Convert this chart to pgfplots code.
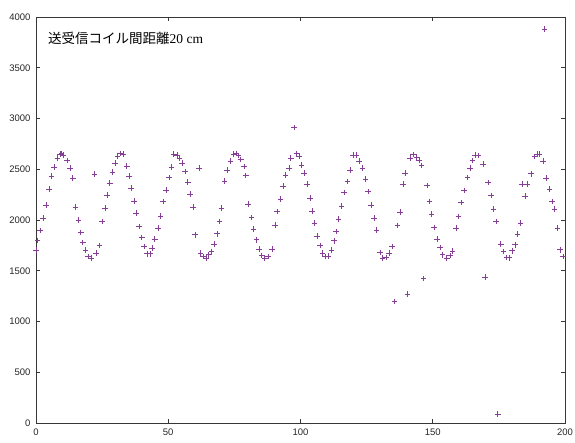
\documentclass[border=0pt]{standalone}
\usepackage{fontspec}
\setmainfont{Liberation Sans}
\newfontfamily\jp{Noto Sans CJK JP}
\newfontfamily\tms{Liberation Serif}
\usepackage{pgfplots}
\pgfplotsset{compat=1.18}
\definecolor{mk}{RGB}{135,62,150}
\definecolor{axc}{RGB}{55,55,55}
\pgfplotstableread{
x y
0.0 1706
0.5 1798
1.6 1896
2.7 2018
3.8 2149
4.9 2303
5.9 2434
6.9 2520
8.1 2608
9.1 2648
9.7 2657
10.4 2641
11.7 2585
12.9 2510
13.9 2411
14.9 2126
16.0 2001
16.9 1877
17.7 1778
18.7 1703
19.7 1641
20.8 1624
22.1 2454
22.7 1673
24.0 1749
25.0 1985
26.1 2116
26.9 2247
27.9 2362
28.9 2470
29.9 2559
30.8 2631
31.8 2654
33.0 2651
34.3 2533
35.2 2431
36.0 2313
37.0 2188
37.9 2067
38.9 1936
40.0 1828
40.9 1739
41.9 1667
43.2 1667
43.9 1723
44.9 1811
46.1 1919
47.1 2041
48.1 2182
49.1 2297
50.3 2418
51.3 2520
52.1 2651
53.4 2641
54.3 2608
55.3 2559
56.3 2477
57.4 2375
58.3 2254
59.3 2126
60.2 1854
61.6 2510
62.2 1673
63.1 1641
64.4 1624
65.3 1657
66.3 1690
67.3 1762
68.4 1864
69.3 1985
70.1 2116
71.3 2385
72.3 2493
73.5 2582
74.7 2651
75.7 2657
76.6 2634
77.4 2598
78.6 2526
79.3 2438
80.2 2156
81.4 2024
82.3 1910
83.3 1805
84.3 1713
85.3 1650
86.5 1624
87.7 1641
89.3 1716
90.3 1952
91.2 2083
92.4 2205
93.4 2336
94.4 2444
95.6 2510
96.3 2608
97.5 2910
98.5 2657
99.4 2631
100.4 2543
101.4 2461
102.5 2356
103.7 2215
104.4 2090
105.3 1969
106.3 1844
107.4 1749
108.3 1673
109.2 1641
110.5 1647
111.7 1706
112.7 1795
113.4 1887
114.4 2011
115.5 2139
116.5 2270
117.7 2379
118.7 2493
119.9 2641
121.2 2641
122.1 2582
123.5 2510
124.6 2405
125.6 2280
126.6 2149
127.8 2018
128.8 1903
130.0 1680
131.0 1624
132.3 1631
133.4 1673
134.7 1739
135.5 1198
136.6 1946
137.7 2077
138.8 2356
139.5 2461
140.4 1270
141.5 2608
142.6 2645
143.9 2620
144.8 2592
145.8 2536
146.5 1425
147.9 2339
148.7 2182
149.6 2057
150.5 1926
151.6 1813
152.7 1729
153.7 1657
155.3 1624
156.5 1650
157.5 1696
158.8 1919
159.8 2034
160.7 2172
161.9 2290
163.1 2418
164.1 2510
165.0 2585
166.0 2641
167.2 2634
169.1 2549
169.8 1437
171.0 2369
172.0 2241
172.9 2110
173.9 1985
174.6 88
175.7 1762
176.8 1688
177.9 1631
178.8 1628
179.9 1697
181.2 1756
182.1 1860
183.1 1972
183.7 2356
184.9 2235
185.8 2356
187.2 2455
188.4 2625
189.4 2650
190.3 2650
191.7 2582
192.2 3881
192.9 2411
194.2 2303
195.1 2182
196.1 2110
197.2 1919
198.2 1707
199.2 1641
}\datatable
\begin{document}
\begin{tikzpicture}
\begin{axis}[
  scale only axis, width=529pt, height=406pt,
  xmin=0, xmax=200, ymin=0, ymax=4000,
  xtick={0,50,100,150,200},
  ytick={0,500,1000,1500,2000,2500,3000,3500,4000},
  tick align=inside, major tick length=4pt,
  axis line style={axc, line width=0.9pt},
  every tick/.style={axc, line width=0.8pt},
  tick label style={font=\fontsize{9.5}{10}\selectfont, text=black!85},
  xticklabel style={yshift=-2pt},
  yticklabel style={xshift=-2pt},
  /pgf/number format/assume math mode=true,
  /pgf/number format/1000 sep={},
  clip=false,
]
\addplot[only marks, mark=+, mark size=2.8pt, mk, mark options={line width=0.65pt}] table[x=x, y=y] {\datatable};
\node[anchor=west, inner sep=0pt, font=\fontsize{13.5}{14}\selectfont] at ([xshift=12pt,yshift=-21pt]rel axis cs:0,1) {{\jp 送受信コイル間距離}{\tms 20 cm}};
\coordinate (ll) at (rel axis cs:0,0);
\coordinate (ur) at (rel axis cs:1,1);
\end{axis}
\pgfresetboundingbox
\path ([shift={(-36pt,-19pt)}]ll) rectangle ([shift={(10pt,17pt)}]ur);
\end{tikzpicture}
\end{document}
